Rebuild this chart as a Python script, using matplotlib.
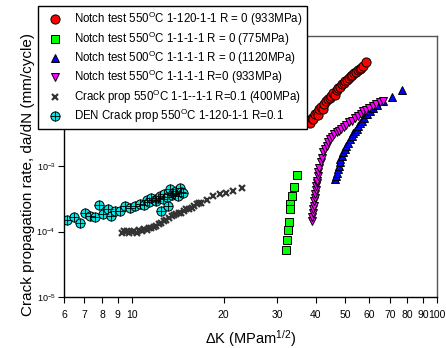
import matplotlib
matplotlib.use("Agg")
import matplotlib.pyplot as plt
from matplotlib.ticker import FixedLocator, NullLocator, FixedFormatter

plt.rcParams['font.family'] = ['Liberation Sans', 'DejaVu Sans']
plt.rcParams['mathtext.fontset'] = 'custom'
plt.rcParams['mathtext.rm'] = 'Liberation Sans'
plt.rcParams['mathtext.it'] = 'Liberation Sans:italic'
plt.rcParams['mathtext.bf'] = 'Liberation Sans:bold'

# ---- data ----
red_x = [38.0, 38.5, 39.0, 39.3, 39.8, 40.3, 40.8, 41.2, 41.8, 42.3, 42.8, 43.4, 44.0, 44.5,
         45.1, 45.8, 46.3, 46.9, 47.5, 48.1, 48.8, 49.4, 50.0, 50.7, 51.4, 52.1, 52.8, 53.5,
         54.3, 55.0, 55.8, 56.5, 57.3, 58.4]
red_y = [5.0e-3, 4.6e-3, 5.5e-3, 5.2e-3, 6.2e-3, 6.6e-3, 6.0e-3, 7.4e-3, 8.0e-3, 7.6e-3,
         9.0e-3, 9.8e-3, 1.05e-2, 1.12e-2, 1.2e-2, 1.3e-2, 1.25e-2, 1.45e-2, 1.55e-2, 1.65e-2,
         1.8e-2, 1.9e-2, 2.0e-2, 2.1e-2, 2.25e-2, 2.4e-2, 2.5e-2, 2.65e-2, 2.8e-2, 2.95e-2,
         3.1e-2, 3.2e-2, 3.4e-2, 3.9e-2]

green_x = [34.8, 34.1, 33.6, 33.1, 32.9, 32.7, 32.6, 32.3, 32.1]
green_y = [7.3e-4, 4.8e-4, 3.5e-4, 2.6e-4, 2.2e-4, 1.4e-4, 1.07e-4, 7.5e-5, 5.3e-5]

blue_x = [46.4, 46.7, 47.0, 47.3, 47.6, 48.0, 48.2, 48.7, 49.2, 49.8, 50.5, 51.1, 51.9, 52.5,
          53.2, 54.0, 54.6, 55.3, 56.0, 56.8, 57.5, 58.8, 60.3, 61.8, 63.4, 66.6, 71.0, 76.6]
blue_y = [6.3e-4, 7.2e-4, 8.0e-4, 9.0e-4, 1.01e-3, 1.15e-3, 1.28e-3, 1.45e-3, 1.63e-3, 1.85e-3,
          2.05e-3, 2.3e-3, 2.6e-3, 2.9e-3, 3.2e-3, 3.5e-3, 3.7e-3, 4.1e-3, 4.6e-3, 5.0e-3,
          5.5e-3, 6.2e-3, 7.1e-3, 7.8e-3, 8.5e-3, 1.01e-2, 1.14e-2, 1.49e-2]

mag_x = [38.9, 39.0, 39.2, 39.3, 39.4, 39.6, 39.8, 39.9, 40.0, 40.2, 40.3, 40.4, 40.7, 40.9,
         41.2, 41.6, 42.0, 42.4, 42.9, 43.5, 44.1, 44.6, 45.2, 46.0, 46.9, 47.8, 48.6, 49.5,
         50.5, 51.5, 52.6, 53.8, 55.0, 56.2, 57.3, 58.6, 60.0, 61.5, 63.0, 65.0, 66.6]
mag_y = [1.44e-4, 1.7e-4, 1.94e-4, 2.2e-4, 2.45e-4, 2.92e-4, 3.3e-4, 3.71e-4, 4.3e-4, 4.98e-4,
         5.5e-4, 6.0e-4, 7.0e-4, 8.1e-4, 9.5e-4, 1.15e-3, 1.35e-3, 1.64e-3, 1.85e-3, 2.05e-3,
         2.35e-3, 2.6e-3, 2.85e-3, 3.1e-3, 3.3e-3, 3.5e-3, 3.75e-3, 3.94e-3, 4.3e-3, 4.7e-3,
         5.0e-3, 5.5e-3, 5.9e-3, 6.4e-3, 6.9e-3, 7.3e-3, 7.8e-3, 8.4e-3, 8.9e-3, 9.6e-3, 1.01e-2]

cross_x = [9.28, 9.45, 9.63, 9.8, 9.99, 10.2, 10.37, 10.55, 10.77, 10.95, 11.18, 11.4, 11.6,
           11.8, 12.05, 12.25, 12.5, 12.75, 12.98, 13.25, 13.5, 13.75, 14.0, 14.25, 14.5,
           14.8, 15.1, 15.4, 15.7, 16.0, 16.3, 16.6, 16.9, 17.6, 18.5, 19.4, 20.4, 21.5, 22.9]
cross_y = [9.6e-5, 1.03e-4, 1.01e-4, 9.4e-5, 9.75e-5, 1.04e-4, 9.6e-5, 1.05e-4, 1.01e-4,
           1.08e-4, 1.07e-4, 1.12e-4, 1.14e-4, 1.18e-4, 1.21e-4, 1.3e-4, 1.36e-4, 1.45e-4,
           1.53e-4, 1.62e-4, 1.72e-4, 1.8e-4, 1.83e-4, 1.9e-4, 1.94e-4, 2.05e-4, 2.18e-4,
           2.25e-4, 2.32e-4, 2.45e-4, 2.6e-4, 2.7e-4, 2.77e-4, 3.1e-4, 3.49e-4, 3.7e-4,
           3.85e-4, 4.17e-4, 4.7e-4]

den_x = [6.12, 6.47, 6.78, 7.02, 7.30, 7.58, 7.84, 8.08, 8.38, 8.58, 8.80, 9.15, 9.51, 9.87,
         10.25, 10.65, 11.0, 11.18, 11.4, 11.6, 11.9, 12.05, 12.2, 12.35, 12.5, 12.65, 12.8,
         13.0, 13.15, 13.3, 13.5, 13.65, 13.83, 14.0, 14.2, 14.36, 14.55, 14.73]
den_y = [1.53e-4, 1.68e-4, 1.36e-4, 1.94e-4, 1.72e-4, 1.70e-4, 2.51e-4, 1.83e-4, 2.23e-4,
         1.76e-4, 2.05e-4, 2.05e-4, 2.45e-4, 2.32e-4, 2.5e-4, 2.6e-4, 2.55e-4, 3.1e-4, 2.8e-4,
         3.3e-4, 3.1e-4, 2.92e-4, 3.3e-4, 3.49e-4, 2.05e-4, 3.2e-4, 3.7e-4, 3.4e-4, 2.45e-4,
         4.43e-4, 3.6e-4, 3.94e-4, 3.7e-4, 4.2e-4, 3.5e-4, 4.6e-4, 4.0e-4, 3.94e-4]

labels = [
    "Notch test 550$^{\\mathrm{O}}$C 1-120-1-1 R = 0 (933MPa)",
    "Notch test 550$^{\\mathrm{O}}$C 1-1-1-1 R = 0 (775MPa)",
    "Notch test 500$^{\\mathrm{O}}$C 1-1-1-1 R = 0 (1120MPa)",
    "Notch test 550$^{\\mathrm{O}}$C 1-1-1-1 R=0 (933MPa)",
    "Crack prop 550$^{\\mathrm{O}}$C 1-1--1-1 R=0.1 (400MPa)",
    "DEN Crack prop 550$^{\\mathrm{O}}$C 1-120-1-1 R=0.1",
]

xticks = [6, 7, 8, 9, 10, 20, 30, 40, 50, 60, 70, 80, 90, 100]
xticklabels = ["6", "7", "8", "9", "10", "20", "30", "40", "50", "60", "70", "80", "90", "100"]
yticks = [1e-5, 1e-4, 1e-3, 1e-2, 1e-1]
yticklabels = ["10$^{-5}$", "10$^{-4}$", "10$^{-3}$", "10$^{-2}$", "10$^{-1}$"]

# ---- figure ----
W, H = 446, 348
fig = plt.figure(figsize=(W / 100, H / 100), dpi=100)
ax = fig.add_axes([64 / W, 1 - 297 / H, (437 - 64) / W, (297 - 35.5) / H])
ax.set_xscale('log')
ax.set_yscale('log')
ax.set_xlim(6, 100)
ax.set_ylim(1e-5, 1e-1)

ek = dict(markeredgecolor='black', markeredgewidth=0.7, linestyle='none')
h1, = ax.plot(red_x, red_y, marker='o', ms=6.6, markerfacecolor='#ff0000', **ek)
h2, = ax.plot(green_x, green_y, marker='s', ms=5.6, markerfacecolor='#00ff00', **ek)
h3, = ax.plot(blue_x, blue_y, marker='^', ms=6.4, markerfacecolor='#0000ff', **ek)
h4, = ax.plot(mag_x, mag_y, marker='v', ms=6.4, markerfacecolor='#ff00ff', **ek)
h5, = ax.plot(cross_x, cross_y, marker='x', ms=5, color='#333333', mew=1.6, linestyle='none')
h6a, = ax.plot(den_x, den_y, marker='o', ms=6.6, markerfacecolor='#00e5e5', **ek)
h6b, = ax.plot(den_x, den_y, marker='+', ms=6.6, color='black', mew=0.6, linestyle='none')

ax.xaxis.set_major_locator(FixedLocator(xticks))
ax.xaxis.set_major_formatter(FixedFormatter(xticklabels))
ax.xaxis.set_minor_locator(NullLocator())
ax.yaxis.set_major_locator(FixedLocator(yticks))
ax.yaxis.set_major_formatter(FixedFormatter(yticklabels))
ax.yaxis.set_minor_locator(NullLocator())
ax.tick_params(axis='x', which='major', direction='out', length=4, width=0.8,
               labelsize=7.5, pad=5)
ax.tick_params(axis='y', which='major', direction='out', length=4, width=0.8,
               labelsize=6.5, pad=2)

for s in ['left', 'bottom']:
    ax.spines[s].set_color('black')
    ax.spines[s].set_linewidth(1.0)
for s in ['top', 'right']:
    ax.spines[s].set_color('#555555')
    ax.spines[s].set_linewidth(1.0)

ax.set_xlabel("\u0394K (MPam$^{1/2}$)", fontsize=10.5, labelpad=6)
ax.set_ylabel("Crack propagation rate, da/dN (mm/cycle)", fontsize=11)
ax.yaxis.set_label_coords(35 / W, 0.5, transform=fig.transFigure)

leg = ax.legend([h1, h2, h3, h4, h5, (h6a, h6b)], labels, loc='upper left',
                bbox_to_anchor=(38 / W, 1 - 6 / H), bbox_transform=fig.transFigure,
                fontsize=8.3, numpoints=1, handlelength=2.2, handletextpad=0.6,
                borderpad=0.35, labelspacing=0.1, borderaxespad=0, fancybox=False,
                framealpha=1, edgecolor='black')
leg.get_frame().set_linewidth(1.0)

fig.savefig("out.png", dpi=100)
